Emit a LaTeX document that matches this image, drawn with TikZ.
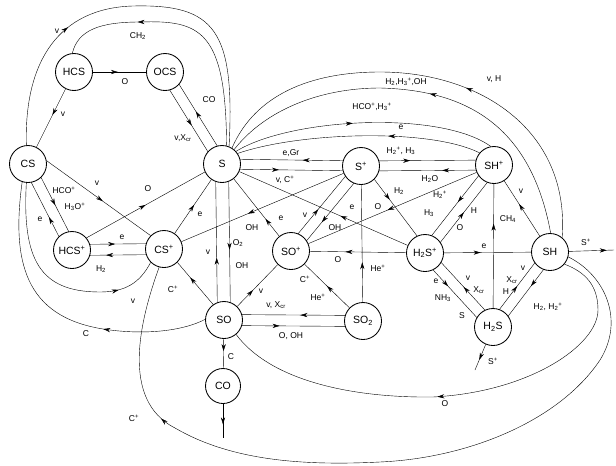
\documentclass[tikz,border=0pt]{standalone}
\usepackage{fontspec}
\setmainfont{Liberation Sans}
\usetikzlibrary{arrows.meta,decorations.markings,calc}
\pgfdeclarelayer{bg}
\pgfsetlayers{bg,main}
\newcommand\subx[1]{\textsubscript{#1}}
\newcommand\supx[1]{\textsuperscript{#1}}
\tikzset{
  nd/.style={circle,draw,fill=white,minimum size=37pt,inner sep=0pt,line width=0.85pt,font=\fontsize{10.5}{12}\selectfont},
  lb/.style={inner sep=0.5pt,font=\fontsize{8.5}{10}\selectfont},
  ar/.style={postaction={decorate,decoration={markings,mark=at position #1 with {\arrow{Stealth[length=7pt,width=4.2pt]}}}}},
  ra/.style={postaction={decorate,decoration={markings,mark=at position #1 with {\arrowreversed{Stealth[length=7pt,width=4.2pt]}}}}}
}
\begin{document}
\begin{tikzpicture}[x=1pt,y=-1pt,line width=0.85pt]
\useasboundingbox (0,0) rectangle (616,466);
% species
\node[nd] (HCS) at (74,72) {HCS};
\node[nd] (OCS) at (165,72) {OCS};
\node[nd] (CS) at (28,164) {CS};
\node[nd] (S) at (222,164) {S};
\node[nd] (Sp) at (361,166) {S\supx{+}};
\node[nd] (SHp) at (494,165) {SH\supx{+}};
\node[nd] (HCSp) at (72,250) {HCS\supx{+}};
\node[nd] (CSp) at (164,249) {CS\supx{+}};
\node[nd] (SOp) at (291,251) {SO\supx{+}};
\node[nd] (H2Sp) at (425,253) {H\subx{2}S\supx{+}};
\node[nd] (SH) at (550,252) {SH};
\node[nd] (SO) at (224,320) {SO};
\node[nd] (SO2) at (363,321) {SO\subx{2}};
\node[nd] (H2S) at (493,327) {H\subx{2}S};
\node[nd,minimum size=35pt] (CO) at (223,386) {CO};
\coordinate (COend) at (223,438);
\coordinate (H2Send) at (475,370);
\coordinate (SHend) at (614,250);

\begin{pgfonlayer}{bg}
% upper left
\draw[ar=0.47] (HCS) -- (OCS);
\draw[ar=0.45] (HCS) -- (CS);
\draw[ra=0.46] ($(OCS)!5.5pt!90:(S)$) -- ($(S)!5.5pt!-90:(OCS)$);
\draw[ar=0.55] ($(OCS)!5.5pt!-90:(S)$) -- ($(S)!5.5pt!90:(OCS)$);
\draw[ar=0.32] (CS.95) .. controls (24,60) and (60,8) .. (133,6) .. controls (215,4) and (235,30) .. (S.68);
\draw[ra=0.3] (HCS.95) .. controls (78,30) and (100,22) .. (140,22) .. controls (200,20) and (226,30) .. (S.76);
% left
\draw[ar=0.51] ($(CS)!5.5pt!90:(HCSp)$) -- ($(HCSp)!5.5pt!-90:(CS)$);
\draw[ra=0.59] ($(CS)!5.5pt!-90:(HCSp)$) -- ($(HCSp)!5.5pt!90:(CS)$);
\draw[ar=0.54] (CS.10) -- (CSp.135);
\draw[ar=0.5] (HCSp.40) -- (S.205);
\draw[ar=0.47] ($(HCSp)!5.5pt!90:(CSp)$) -- ($(CSp)!5.5pt!-90:(HCSp)$);
\draw[ra=0.37] ($(HCSp)!5.5pt!-90:(CSp)$) -- ($(CSp)!5.5pt!90:(HCSp)$);
\draw[ar=0.53] (CSp) -- (S);
\draw[ra=0.36] (CSp.-45) -- (SO.125);
\draw[ra=0.41] (CSp) -- (Sp);
\draw[ar=0.8] (CS.-95) .. controls (22,260) and (40,292) .. (100,292) .. controls (125,292) and (140,283) .. (CSp.-135);
\draw[ra=0.65] (CS.-108) .. controls (10,270) and (30,320) .. (110,330) .. controls (150,335) and (185,330) .. (SO.178);
% centre
\draw[ar=0.55] ($(S)!6.5pt!90:(SO)$) -- ($(SO)!6.5pt!-90:(S)$);
\draw[ra=0.6] ($(S)!6.5pt!-90:(SO)$) -- ($(SO)!6.5pt!90:(S)$);
\draw[ra=0.7] (S) -- (SOp);
\draw[ra=0.58] ($(S)!5pt!90:(Sp)$) -- ($(Sp)!5pt!-90:(S)$);
\draw[ar=0.41] ($(S)!5pt!-90:(Sp)$) -- ($(Sp)!5pt!90:(S)$);
\draw[ra=0.6] (S) -- (H2Sp);
\draw[ar=0.62] ($(Sp)!5.5pt!90:(SOp)$) -- ($(SOp)!5.5pt!-90:(Sp)$);
\draw[ra=0.55] ($(Sp)!5.5pt!-90:(SOp)$) -- ($(SOp)!5.5pt!90:(Sp)$);
\draw[ar=0.37] ($(Sp)!5pt!90:(SHp)$) -- ($(SHp)!5pt!-90:(Sp)$);
\draw[ra=0.61] ($(Sp)!5pt!-90:(SHp)$) -- ($(SHp)!5pt!90:(Sp)$);
\draw[ar=0.36] (Sp.-45) -- (H2Sp.115);
\draw[ra=0.66] (Sp) -- (SO2);
\draw[ra=0.37] (SOp) -- (H2Sp);
\draw[ra=0.47] (SOp) -- (SHp);
\draw[ar=0.5] (SO2) -- (SOp);
\draw[ar=0.39] (SO) -- (SOp);
\draw[ra=0.55] ($(SO)!5.5pt!90:(SO2)$) -- ($(SO2)!5.5pt!-90:(SO)$);
\draw[ar=0.40] ($(SO)!5.5pt!-90:(SO2)$) -- ($(SO2)!5.5pt!90:(SO)$);
\draw[ar=0.42] (SO) -- (CO);
\draw[ar=0.6] (CO) -- (COend);
% right
\draw[ra=0.54] ($(H2Sp)!5.5pt!90:(SHp)$) -- ($(SHp)!5.5pt!-90:(H2Sp)$);
\draw[ar=0.50] ($(H2Sp)!5.5pt!-90:(SHp)$) -- ($(SHp)!5.5pt!90:(H2Sp)$);
\draw[ra=0.32] (SHp) -- (H2S);
\draw[ra=0.42] (SHp) -- (SH);
\draw[ar=0.42] (H2Sp) -- (SH);
\draw[ra=0.51] ($(H2Sp)!5.5pt!90:(H2S)$) -- ($(H2S)!5.5pt!-90:(H2Sp)$);
\draw[ar=0.40] ($(H2Sp)!5.5pt!-90:(H2S)$) -- ($(H2S)!5.5pt!90:(H2Sp)$);
\draw[ar=0.50] ($(H2S)!5.5pt!90:(SH)$) -- ($(SH)!5.5pt!-90:(H2S)$);
\draw[ra=0.59] ($(H2S)!5.5pt!-90:(SH)$) -- ($(SH)!5.5pt!90:(H2S)$);
\draw[ar=0.84] (SH) -- (SHend);
\draw[ar=0.6] (H2S) -- (H2Send);
% arcs over the top
\draw[ra=0.58] (S.58) .. controls (255,95) and (310,72) .. (380,72) .. controls (480,72) and (570,130) .. (SH.50);
\draw[ra=0.52] (S.50) .. controls (265,110) and (320,88) .. (380,88) .. controls (460,90) and (530,120) .. (SH.88);
\draw[ar=0.46] (S.42) .. controls (290,118) and (440,110) .. (SHp.100);
\draw[ra=0.62] (S.34) .. controls (300,132) and (430,128) .. (SHp.140);
% loops under the bottom
\draw[ra=0.46] (SO.-50) .. controls (270,380) and (350,398) .. (433,397) .. controls (530,392) and (598,345) .. (598,310) .. controls (598,285) and (585,272) .. (SH.-40);
\draw[ra=0.21] (CSp.-105) .. controls (140,320) and (120,400) .. (175,428) .. controls (230,460) and (300,466) .. (380,462) .. controls (470,458) and (560,420) .. (600,360) .. controls (625,320) and (605,275) .. (SH.-15);
\end{pgfonlayer}

% labels
\node[lb] (l1) at (125,82) {O};
\node[lb] (l2) at (138,36) {CH\subx{2}};
\node[lb] (l3) at (57,31) {v};
\node[lb] (l4) at (63,114) {v};
\node[lb] (l5) at (209,100) {CO};
\node[lb] (l6) at (183,138) {v,X\subx{cr}};
\node[lb] (l7) at (64,190) {HCO\supx{+}};
\node[lb] (l8) at (75,207) {H\subx{3}O\supx{+}};
\node[lb] (l9) at (40,219) {e};
\node[lb] (l10) at (97,183) {v};
\node[lb] (l11) at (148,189) {O};
\node[lb] (l12) at (122,237) {e};
\node[lb] (l13) at (101,269) {H\subx{2}};
\node[lb] (l14) at (133,301) {v};
\node[lb] (l15) at (200,214) {e};
\node[lb] (l16) at (173,289) {C\supx{+}};
\node[lb] (l17) at (208,252) {v};
\node[lb] (l18) at (238,243) {O\subx{2}};
\node[lb] (l19) at (242,266) {OH};
\node[lb] (l20) at (252,228) {OH};
\node[lb] (l21) at (281,218) {e};
\node[lb] (l22) at (291,153) {e,Gr};
\node[lb] (l23) at (285,180) {v, C\supx{+}};
\node[lb] (l24) at (305,215) {v};
\node[lb] (l25) at (335,228) {OH};
\node[lb] (l26) at (352,207) {e};
\node[lb] (l27) at (338,260) {O};
\node[lb] (l28) at (378,268) {He\supx{+}};
\node[lb] (l29) at (305,279) {C\supx{+}};
\node[lb] (l30) at (318,297) {He\supx{+}};
\node[lb] (l31) at (261,291) {v};
\node[lb] (l32) at (276,305) {v, X\subx{cr}};
\node[lb] (l33) at (291,336) {O, OH};
\node[lb] (l34) at (231,357) {C};
\node[lb] (l35) at (86,334) {C};
\node[lb] (l36) at (134,418) {C\supx{+}};
\node[lb] (l37) at (445,404) {O};
\node[lb] (l38) at (401,151) {H\subx{2}\supx{+}, H\subx{3}};
\node[lb] (l39) at (430,179) {H\subx{2}O};
\node[lb] (l40) at (399,191) {H\subx{2}};
\node[lb] (l41) at (378,207) {O};
\node[lb] (l42) at (440,195) {H\subx{2}\supx{+}};
\node[lb] (l43) at (429,213) {H\subx{3}};
\node[lb] (l44) at (474,211) {H};
\node[lb] (l45) at (460,228) {O};
\node[lb] (l46) at (508,219) {CH\subx{4}};
\node[lb] (l47) at (521,191) {v};
\node[lb] (l48) at (484,246) {e};
\node[lb] (l49) at (586,242) {S\supx{+}};
\node[lb] (l50) at (436,281) {e};
\node[lb] (l51) at (443,298) {NH\subx{3}};
\node[lb] (l52) at (462,316) {S};
\node[lb] (l53) at (468,278) {v};
\node[lb] (l54) at (479,290) {X\subx{cr}};
\node[lb] (l55) at (523,268) {v};
\node[lb] (l56) at (512,280) {X\subx{cr}};
\node[lb] (l57) at (506,292) {H};
\node[lb] (l58) at (548,307) {H\subx{2}, H\subx{2}\supx{+}};
\node[lb] (l59) at (493,361) {S\supx{+}};
\node[lb] (l60) at (494,79) {v, H};
\node[lb] (l61) at (406,82) {H\subx{2},H\subx{3}\supx{+},OH};
\node[lb] (l62) at (372,107) {HCO\supx{+},H\subx{3}\supx{+}};
\node[lb] (l63) at (401,127) {e};
\end{tikzpicture}
\end{document}
